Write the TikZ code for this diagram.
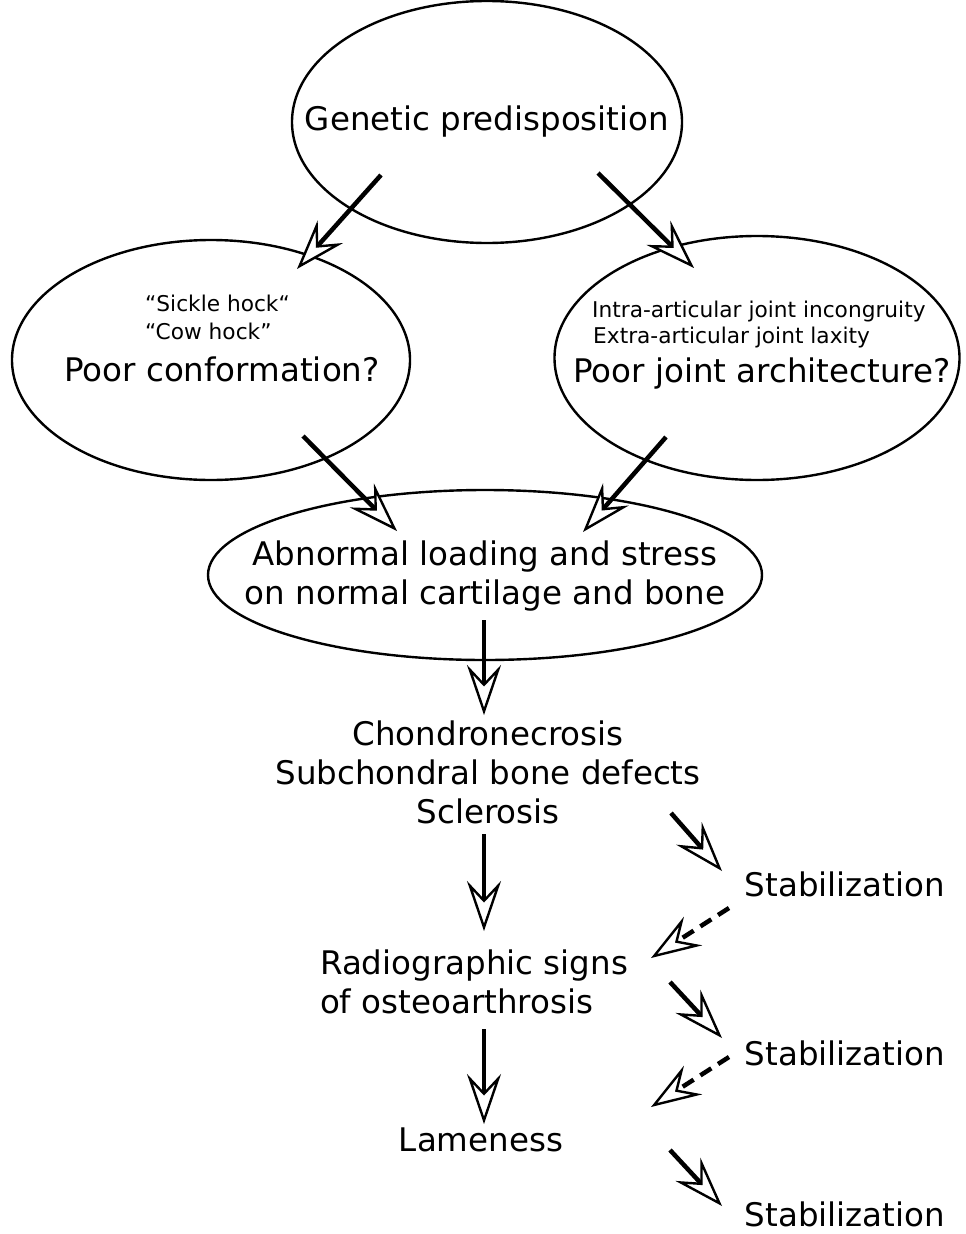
\documentclass[tikz,border=0pt]{standalone}
\usepackage{fontspec}
\setmainfont{DejaVu Sans}
\usetikzlibrary{shapes.geometric,arrows.meta}
\tikzset{
  oval/.style={draw, ellipse, line width=2.4pt, inner sep=0pt},
  big/.style={font=\fontsize{32.5}{39}\selectfont, inner sep=0pt, align=center},
  small/.style={font=\fontsize{21.7}{27}\selectfont, inner sep=0pt},
  arr/.style={line width=4.5pt, -{Stealth[length=50pt, width=34pt, inset=18pt, fill=white, line width=2.4pt]}},
  darr/.style={arr, dash pattern=on 13pt off 8pt},
}
\begin{document}
\begin{tikzpicture}[x=1pt,y=-1pt]
\useasboundingbox (0,0) rectangle (966,1234);
% ellipses
\node[oval, minimum width=390pt, minimum height=242pt] (gen) at (487,122) {};
\node[oval, minimum width=398pt, minimum height=240pt] (conf) at (211,360) {};
\node[oval, minimum width=405pt, minimum height=244pt] (arch) at (757,358) {};
\node[oval, minimum width=554pt, minimum height=170pt] (abn) at (485,575) {};
% texts
\node[big] (tgen) at (487,122) {Genetic predisposition};
\node[small, anchor=west] (sick) at (145,303) {“Sickle hock“};
\node[small, anchor=west] (cow) at (145,331) {“Cow hock”};
\node[big] (tconf) at (222,369) {Poor conformation?};
\node[small, anchor=west] (intra) at (592,312) {Intra-articular joint incongruity};
\node[small, anchor=west] (extra) at (593,338) {Extra-articular joint laxity};
\node[big] (tarch) at (762,374) {Poor joint architecture?};
\node[big] (tabn) at (485,576) {Abnormal loading and stress\\on normal cartilage and bone};
\node[big] (chon) at (488,772) {Chondronecrosis\\Subchondral bone defects\\Sclerosis};
\node[big, align=left] (radio) at (474,982) {Radiographic signs\\of osteoarthrosis};
\node[big] (lame) at (481,1140) {Lameness};
\node[big] (st1) at (845,884) {Stabilization};
\node[big] (st2) at (845,1053) {Stabilization};
\node[big] (st3) at (845,1214) {Stabilization};
% arrow endpoints
\coordinate (a1s) at (381,175); \coordinate (a1e) at (297,269);
\coordinate (a2s) at (598,173); \coordinate (a2e) at (694,268);
\coordinate (a3s) at (303,436); \coordinate (a3e) at (397,531);
\coordinate (a4s) at (666,437); \coordinate (a4e) at (583,532);
\coordinate (a5s) at (484,620); \coordinate (a5e) at (484,715);
\coordinate (a6s) at (484,834); \coordinate (a6e) at (484,931);
\coordinate (a7s) at (484,1029); \coordinate (a7e) at (484,1124);
\coordinate (b1s) at (671,813); \coordinate (b1e) at (722,871);
\coordinate (c1s) at (729,908); \coordinate (c1e) at (651,958);
\coordinate (b2s) at (670,982); \coordinate (b2e) at (722,1038);
\coordinate (c2s) at (729,1057); \coordinate (c2e) at (651,1107);
\coordinate (b3s) at (670,1150); \coordinate (b3e) at (722,1206);
\draw[arr] (a1s) -- (a1e);
\draw[arr] (a2s) -- (a2e);
\draw[arr] (a3s) -- (a3e);
\draw[arr] (a4s) -- (a4e);
\draw[arr] (a5s) -- (a5e);
\draw[arr] (a6s) -- (a6e);
\draw[arr] (a7s) -- (a7e);
\draw[arr] (b1s) -- (b1e);
\draw[darr] (c1s) -- (c1e);
\draw[arr] (b2s) -- (b2e);
\draw[darr] (c2s) -- (c2e);
\draw[arr] (b3s) -- (b3e);
\end{tikzpicture}
\end{document}
